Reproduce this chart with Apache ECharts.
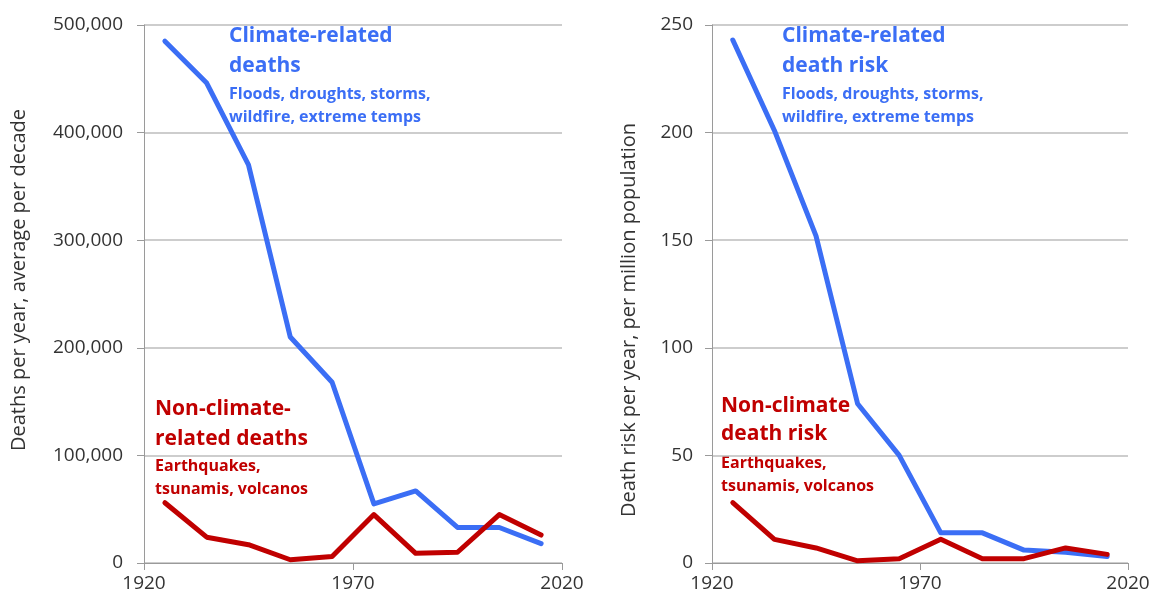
<!DOCTYPE html>
<html>
<head>
<meta charset="utf-8">
<script src="https://cdn.jsdelivr.net/npm/echarts@6/dist/echarts.min.js"></script>
<style>
html,body{margin:0;padding:0;background:#fff;}
#chart{width:1154px;height:601px;}
</style>
</head>
<body>
<div id="chart"></div>
<script>
// Decade midpoints
const years = [1925, 1935, 1945, 1955, 1965, 1975, 1985, 1995, 2005, 2015];
// Left panel: deaths per year, average per decade
const climateDeaths = [485000, 446000, 370000, 210000, 168000, 55000, 67000, 33000, 33000, 18000];
const nonClimateDeaths = [56000, 24000, 17000, 3000, 6000, 45000, 9000, 10000, 45000, 26000];
// Right panel: death risk per year, per million population
const climateRisk = [243, 201, 152, 74, 50, 14, 14, 6, 5, 3];
const nonClimateRisk = [28, 11, 7, 1, 2, 11, 2, 2, 7, 4];
const xTicks = [1920, 1970, 2020];

const BLUE = '#3b6ef5';
const RED = '#c00000';
const FONT = '"Open Sans", sans-serif';
const TXT = '#333333';

const pairs = (xs, ys) => xs.map((x, i) => [x, ys[i]]);

function xAxis(gridIndex) {
  return {
    type: 'value', gridIndex, min: xTicks[0], max: xTicks[2], interval: xTicks[1] - xTicks[0],
    axisLine: {show: true, lineStyle: {color: '#9a9a9a', width: 1}},
    axisTick: {show: true, length: 7, lineStyle: {color: '#9a9a9a'}},
    axisLabel: {color: TXT, fontSize: 19, fontFamily: FONT, margin: 11, formatter: v => String(v)},
    splitLine: {show: false}
  };
}
function yAxis(gridIndex, max, interval, fmt, margin) {
  return {
    type: 'value', gridIndex, min: 0, max, interval,
    axisLine: {show: true, lineStyle: {color: '#9a9a9a', width: 1}},
    axisTick: {show: true, inside: false, length: 7, lineStyle: {color: '#9a9a9a'}},
    axisLabel: {color: TXT, fontSize: 19, fontFamily: FONT, margin, formatter: fmt},
    splitLine: {show: true, lineStyle: {color: '#bcbcbc', width: 1.5}}
  };
}
function line(name, xi, data, color) {
  return {
    name, type: 'line', xAxisIndex: xi, yAxisIndex: xi, data,
    symbol: 'none', smooth: false,
    lineStyle: {color, width: 5, cap: 'round', join: 'round'},
    z: color === RED ? 3 : 2
  };
}
function txt(x, y, text, color, size) {
  return {
    type: 'text', left: x, top: y,
    style: {text, fill: color, font: 'bold ' + size + 'px "Open Sans", sans-serif'}
  };
}
function vtitle(x, y, text) {
  return {
    type: 'text', x, y, rotation: Math.PI / 2,
    style: {text, fill: TXT, font: '20px "Open Sans", sans-serif', align: 'center', verticalAlign: 'middle'}
  };
}

const chart = echarts.init(document.getElementById('chart'), null, {renderer: 'canvas'});
chart.setOption({
  animation: false,
  backgroundColor: '#ffffff',
  grid: [
    {left: 144, top: 25, width: 418, height: 538},
    {left: 712, top: 25, width: 416, height: 538}
  ],
  xAxis: [xAxis(0), xAxis(1)],
  yAxis: [
    yAxis(0, 500000, 100000, v => v.toLocaleString('en-US'), 21),
    yAxis(1, 250, 50, v => String(v), 19)
  ],
  series: [
    line('Climate-related deaths', 0, pairs(years, climateDeaths), BLUE),
    line('Non-climate-related deaths', 0, pairs(years, nonClimateDeaths), RED),
    line('Climate-related death risk', 1, pairs(years, climateRisk), BLUE),
    line('Non-climate death risk', 1, pairs(years, nonClimateRisk), RED)
  ],
  graphic: [
    vtitle(19, 280, 'Deaths per year, average per decade'),
    vtitle(629, 320, 'Death risk per year, per million population'),
    txt(229, 26, 'Climate-related', BLUE, 21),
    txt(229, 56, 'deaths', BLUE, 21),
    txt(229, 86, 'Floods, droughts, storms,', BLUE, 16),
    txt(229, 109, 'wildfire, extreme temps', BLUE, 16),
    txt(155, 399, 'Non-climate-', RED, 21),
    txt(155, 429, 'related deaths', RED, 21),
    txt(155, 458, 'Earthquakes,', RED, 16),
    txt(155, 481, 'tsunamis, volcanos', RED, 16),
    txt(782, 26, 'Climate-related', BLUE, 21),
    txt(782, 56, 'death risk', BLUE, 21),
    txt(782, 86, 'Floods, droughts, storms,', BLUE, 16),
    txt(782, 109, 'wildfire, extreme temps', BLUE, 16),
    txt(721, 396, 'Non-climate', RED, 21),
    txt(721, 424, 'death risk', RED, 21),
    txt(721, 455, 'Earthquakes,', RED, 16),
    txt(721, 478, 'tsunamis, volcanos', RED, 16)
  ]
});
</script>
</body>
</html>
